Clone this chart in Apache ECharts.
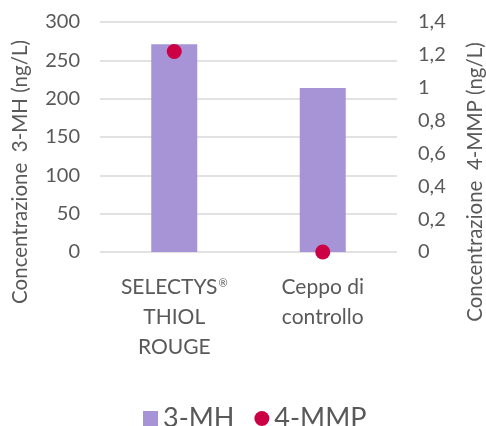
<!DOCTYPE html>
<html>
<head>
<meta charset="utf-8">
<script src="https://cdn.jsdelivr.net/npm/echarts@6/dist/echarts.min.js"></script>
<style>
  html, body { margin: 0; padding: 0; background: #fff; }
  #chart { width: 486px; height: 426px; }
</style>
</head>
<body>
<div id="chart"></div>
<script>
// Strains compared
const categories = ['SELECTYS®\nTHIOL\nROUGE', 'Ceppo di\ncontrollo'];
// 3-MH concentration, ng/L (left axis)
const mh3Values = [271, 214];
// 4-MMP concentration, ng/L (right axis)
const mmp4Values = [1.22, 0];
// Axis scales
const leftTicks = { min: 0, max: 300, interval: 50 };
const rightTicks = { min: 0, max: 1.4, interval: 0.2 };

const FONT = 'Lato';
const GREY = '#595959';

const chart = echarts.init(document.getElementById('chart'));
chart.setOption({
  animation: false,
  textStyle: { fontFamily: FONT, color: GREY },
  grid: { left: 100, right: 89, top: 22, bottom: 174 },
  legend: {
    left: 138, top: 400,
    itemWidth: 15, itemHeight: 15, itemGap: 20,
    textStyle: { fontFamily: FONT, fontSize: 27, color: GREY },
    data: [
      { name: '3-MH', icon: 'rect' },
      { name: '4-MMP', icon: 'circle' }
    ]
  },
  xAxis: {
    type: 'category',
    data: categories,
    axisLine: { show: false },
    axisTick: { show: false },
    axisLabel: {
      interval: 0,
      fontFamily: FONT, fontSize: 21, color: GREY,
      lineHeight: 30, margin: 20,
      // registered mark drawn as a small superscript
      formatter: v => v.split('\n')
        .map(line => '{t|' + line.replace('®', '}{sup|®}{t|') + '}')
        .join('\n'),
      rich: {
        t: { fontFamily: FONT, fontSize: 21, color: GREY, lineHeight: 30 },
        sup: {
          fontFamily: FONT, fontSize: 11, color: GREY, lineHeight: 30,
          verticalAlign: 'top', padding: [6, 0, 0, 1]
        }
      }
    }
  },
  yAxis: [
    {
      type: 'value',
      min: leftTicks.min, max: leftTicks.max, interval: leftTicks.interval,
      axisLine: { show: false }, axisTick: { show: false },
      splitLine: { lineStyle: { color: '#d9d9d9', width: 1.5 } },
      axisLabel: { fontFamily: FONT, fontSize: 20, color: GREY, margin: 20 }
    },
    {
      type: 'value',
      min: rightTicks.min, max: rightTicks.max, interval: rightTicks.interval,
      axisLine: { show: false }, axisTick: { show: false },
      splitLine: { show: false },
      axisLabel: {
        fontFamily: FONT, fontSize: 20, color: GREY, margin: 21,
        formatter: v => String(Math.round(v * 10) / 10).replace('.', ',')
      }
    }
  ],
  graphic: [
    {
      type: 'text', x: 20, y: 172, rotation: Math.PI / 2,
      style: {
        text: 'Concentrazione  3-MH (ng/L)', fill: GREY,
        font: '20.5px ' + FONT, align: 'center', verticalAlign: 'middle'
      }
    },
    {
      type: 'text', x: 475, y: 182, rotation: Math.PI / 2,
      style: {
        text: 'Concentrazione  4-MMP (ng/L)', fill: GREY,
        font: '20.5px ' + FONT, align: 'center', verticalAlign: 'middle'
      }
    }
  ],
  series: [
    {
      name: '3-MH', type: 'bar', yAxisIndex: 0,
      data: mh3Values, barWidth: 46,
      itemStyle: { color: '#a694d6' }
    },
    {
      name: '4-MMP', type: 'scatter', yAxisIndex: 1,
      data: mmp4Values, symbol: 'circle', symbolSize: 15,
      itemStyle: { color: '#cc0044', opacity: 1 }
    }
  ]
});
</script>
</body>
</html>
